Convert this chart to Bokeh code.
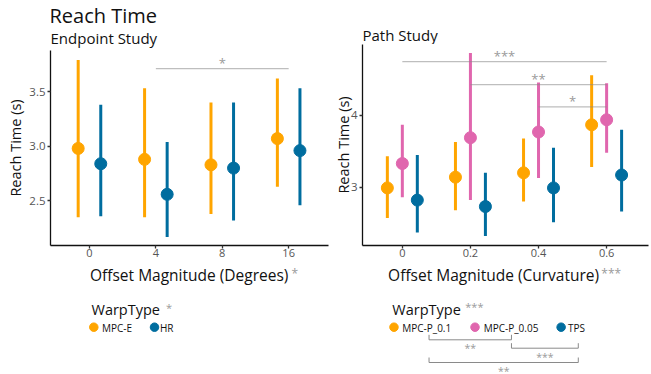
import numpy as np
from bokeh.plotting import figure
from bokeh.layouts import row, column
from bokeh.models import Range1d, FixedTicker, ColumnDataSource
from bokeh.core.properties import value
from bokeh.embed import file_html
from bokeh.resources import INLINE

FONT = "Open Sans"
ORANGE = "#FFA500"
PINK = "#E066AE"
BLUE = "#006D9F"
SIG_GRAY = "#9A9A9A"
INK = "#111111"
K = 0.33  # observed drop of the alphabetic baseline, in em

# ---------------- Endpoint study ----------------
ep_offsets = ["0", "4", "8", "16"]
ep_groups = ["MPC-E", "HR"]
ep_mpce_mean = [2.98, 2.88, 2.83, 3.07]
ep_mpce_low = [2.35, 2.35, 2.38, 2.63]
ep_mpce_high = [3.79, 3.53, 3.40, 3.62]
ep_hr_mean = [2.84, 2.56, 2.80, 2.96]
ep_hr_low = [2.36, 2.17, 2.32, 2.46]
ep_hr_high = [3.38, 3.04, 3.40, 3.53]
ep_yticks = [2.5, 3.0, 3.5]
ep_ytick_labels = ["2.5", "3.0", "3.5"]
ep_sig_from = ["4"]
ep_sig_to = ["16"]
ep_sig_y = [3.71]
ep_sig_label = ["*"]
ep_offset_sig = "*"
ep_warp_sig = "*"

# ---------------- Path study ----------------
path_offsets = [0.0, 0.2, 0.4, 0.6]
path_tick_labels = ["0", "0.2", "0.4", "0.6"]
path_groups = ["MPC-P_0.1", "MPC-P_0.05", "TPS"]
p01_mean = [2.99, 3.14, 3.20, 3.87]
p01_low = [2.57, 2.68, 2.80, 3.28]
p01_high = [3.43, 3.63, 3.68, 4.56]
p005_mean = [3.33, 3.69, 3.77, 3.94]
p005_low = [2.86, 2.82, 3.13, 3.48]
p005_high = [3.87, 4.87, 4.46, 4.45]
tps_mean = [2.82, 2.73, 2.99, 3.17]
tps_low = [2.37, 2.32, 2.51, 2.66]
tps_high = [3.45, 3.20, 3.55, 3.80]
path_yticks = [3, 4]
path_sig_from = [0.0, 0.2, 0.4]
path_sig_to = [0.6, 0.6, 0.6]
path_sig_y = [4.75, 4.43, 4.12]
path_sig_label = ["***", "**", "*"]
path_offset_sig = "***"
path_warp_sig = "***"
# WarpType pairwise significance shown under the legend
wt_sig_pairs = [("MPC-P_0.1", "MPC-P_0.05", "**"), ("MPC-P_0.05", "TPS", "***"), ("MPC-P_0.1", "TPS", "**")]


def style(p):
    p.xgrid.visible = False
    p.ygrid.visible = False
    p.outline_line_color = None
    for ax in (p.xaxis[0], p.yaxis[0]):
        ax.axis_line_color = INK
        ax.axis_line_width = 1.3
        ax.major_tick_line_color = "#333333"
        ax.major_tick_line_width = 1.3
        ax.major_tick_out = 3
        ax.major_tick_in = 0
        ax.minor_tick_line_color = None
        ax.major_label_text_font = FONT
        ax.major_label_text_font_size = "11.5px"
        ax.major_label_text_color = "#555555"
        ax.axis_label_text_font = FONT
        ax.axis_label_text_font_size = "14.5px"
        ax.axis_label_text_font_style = "normal"
        ax.axis_label_text_color = INK
    p.xaxis.major_label_text_font_size = "11px"
    p.xaxis.major_label_standoff = 0
    p.yaxis.major_label_standoff = 2
    p.yaxis.axis_label_standoff = 1


def pointranges(p, xs, means, lows, highs, color):
    src = ColumnDataSource(dict(x=xs, m=means, lo=lows, hi=highs))
    p.segment(x0="x", y0="lo", x1="x", y1="hi", source=src, line_color=color, line_width=3)
    p.scatter(x="x", y="m", source=src, size=12, fill_color=color, line_color=color)


def pixel_fig(x0, x1, y0, y1, bl, br):
    """A bare figure whose frame maps image pixels (x0..x1, y0..y1, y downwards)."""
    f = figure(width=(x1 - x0) + bl + br, height=y1 - y0,
               x_range=Range1d(x0, x1), y_range=Range1d(y1, y0),
               output_backend="svg", toolbar_location=None,
               min_border_left=bl, min_border_right=br, min_border_top=0, min_border_bottom=0,
               x_axis_type=None, y_axis_type=None)
    f.outline_line_color = None
    f.grid.visible = False
    return f


def txt(f, x, y, s, size, color=INK, align="left"):
    f.text(x=[x], y=[y - K * size], text=[s], text_font=value(FONT), text_font_size=f"{size}px",
           text_color=color, text_baseline="alphabetic", text_align=align)


TOP_L, TOP_R, FRAME_BOTTOM, FOOT = 50, 44, 245, 263

# ================= Left column =================
L_BL, L_BR = 50, 2
h1 = pixel_fig(50, 328, 0, TOP_L, L_BL, L_BR)
txt(h1, 49, 21.5, "Reach Time", 20)
txt(h1, 50, 42.3, "Endpoint Study", 15)

ep_idx = np.arange(len(ep_offsets))
p1 = figure(width=330, height=FOOT - TOP_L, x_range=Range1d(-0.587, 3.60), y_range=Range1d(2.092, 3.876),
            output_backend="svg", toolbar_location=None,
            min_border_left=L_BL, min_border_right=L_BR, min_border_top=0,
            min_border_bottom=FOOT - FRAME_BOTTOM)
style(p1)
p1.xaxis.ticker = FixedTicker(ticks=list(ep_idx))
p1.xaxis.major_label_overrides = {int(i): lab for i, lab in zip(ep_idx, ep_offsets)}
p1.yaxis.ticker = FixedTicker(ticks=ep_yticks)
p1.yaxis.major_label_overrides = {v: lab for v, lab in zip(ep_yticks, ep_ytick_labels)}
p1.yaxis.axis_label = "Reach Time (s)"

dodge_ep = 0.17
pointranges(p1, list(ep_idx - dodge_ep), ep_mpce_mean, ep_mpce_low, ep_mpce_high, ORANGE)
pointranges(p1, list(ep_idx + dodge_ep), ep_hr_mean, ep_hr_low, ep_hr_high, BLUE)

SIG_FS = 13
ep_x0 = [ep_offsets.index(a) for a in ep_sig_from]
ep_x1 = [ep_offsets.index(b) for b in ep_sig_to]
ep_xm = [(a + b) / 2 for a, b in zip(ep_x0, ep_x1)]
p1.segment(x0=ep_x0, y0=ep_sig_y, x1=ep_x1, y1=ep_sig_y, line_color="#888888", line_alpha=0.55, line_width=1.2)
p1.text(x=ep_xm, y=ep_sig_y, text=ep_sig_label, text_align="center", text_baseline="alphabetic",
        y_offset=-1.5 - K * SIG_FS, text_color=SIG_GRAY, text_font=value(FONT), text_font_size=f"{SIG_FS}px")

f1 = pixel_fig(50, 328, FOOT, 374, L_BL, L_BR)
txt(f1, 188.7, 279.6, "Offset Magnitude (Degrees)", 15.5, align="center")
txt(f1, 291, 277.0, ep_offset_sig, 12, SIG_GRAY)
txt(f1, 91, 313.3, "WarpType", 14.5)
txt(f1, 165.5, 310.5, ep_warp_sig, 11, SIG_GRAY)
l1_dot_x = [93.3, 154.0]
l1_text_x = [101.5, 159.5]
f1.scatter(x=l1_dot_x, y=[326.7] * 2, size=8.5, fill_color=[ORANGE, BLUE], line_color=[ORANGE, BLUE])
f1.text(x=l1_text_x, y=[330.3 - K * 10] * 2, text=ep_groups, text_font=value(FONT), text_font_size="10px",
        text_color=INK, text_baseline="alphabetic")

# ================= Right column =================
R_BL, R_BR = 30, 3
h2 = pixel_fig(360, 648, 0, TOP_R, R_BL, R_BR)
txt(h2, 360, 39, "Path Study", 15)

p2 = figure(width=321, height=FOOT - TOP_R, x_range=Range1d(-0.117, 0.723), y_range=Range1d(2.187, 4.99),
            output_backend="svg", toolbar_location=None,
            min_border_left=R_BL, min_border_right=R_BR, min_border_top=0,
            min_border_bottom=FOOT - FRAME_BOTTOM)
style(p2)
p2.xaxis.ticker = FixedTicker(ticks=path_offsets)
p2.xaxis.major_label_overrides = {v: lab for v, lab in zip(path_offsets, path_tick_labels)}
p2.yaxis.ticker = FixedTicker(ticks=path_yticks)
p2.yaxis.major_label_standoff = 2
p2.yaxis.axis_label_standoff = -5
p2.yaxis.axis_label = "Reach Time (s)"

po = np.array(path_offsets)
dodge_p = 0.044
pointranges(p2, list(po - dodge_p), p01_mean, p01_low, p01_high, ORANGE)
pointranges(p2, list(po), p005_mean, p005_low, p005_high, PINK)
pointranges(p2, list(po + dodge_p), tps_mean, tps_low, tps_high, BLUE)

path_xm = [(a + b) / 2 for a, b in zip(path_sig_from, path_sig_to)]
p2.segment(x0=path_sig_from, y0=path_sig_y, x1=path_sig_to, y1=path_sig_y, line_color="#888888",
           line_alpha=0.55, line_width=1.2)
p2.text(x=path_xm, y=path_sig_y, text=path_sig_label, text_align="center", text_baseline="alphabetic",
        y_offset=-1.5 - K * SIG_FS, text_color=SIG_GRAY, text_font=value(FONT), text_font_size=f"{SIG_FS}px")

f2 = pixel_fig(360, 648, FOOT, 374, R_BL, R_BR)
txt(f2, 492, 279.8, "Offset Magnitude (Curvature)", 15.5, align="center")
txt(f2, 600.5, 277.4, path_offset_sig, 12, SIG_GRAY)
txt(f2, 390, 313.3, "WarpType", 14.5)
txt(f2, 463.5, 309.5, path_warp_sig, 11, SIG_GRAY)
l2_dot_x = [391.7, 473.3, 560.0]
l2_text_x = [400.0, 482.0, 567.0]
l2_center_x = [427.0, 510.0, 577.3]
f2.scatter(x=l2_dot_x, y=[326.7] * 3, size=8.5, fill_color=[ORANGE, PINK, BLUE], line_color=[ORANGE, PINK, BLUE])
f2.text(x=l2_text_x, y=[330.3 - K * 10] * 3, text=path_groups, text_font=value(FONT), text_font_size="10px",
        text_color=INK, text_baseline="alphabetic")

BR_FS = 10.5
bracket_y = [339.3, 347.7, 362.0]
xs, ys, btx, bty, btl = [], [], [], [], []
for (a, b, lab), by in zip(wt_sig_pairs, bracket_y):
    xa = l2_center_x[path_groups.index(a)]
    xb = l2_center_x[path_groups.index(b)]
    xs.append([xa, xa, xb, xb])
    ys.append([by - 5, by, by, by - 5])
    btx.append((xa + xb) / 2)
    bty.append(by + 12 - K * BR_FS)
    btl.append(lab)
f2.multi_line(xs=xs, ys=ys, line_color="#8A8A8A", line_width=1)
f2.text(x=btx, y=bty, text=btl, text_align="center", text_font=value(FONT), text_font_size=f"{BR_FS}px",
        text_color=SIG_GRAY, text_baseline="alphabetic")

layout = row(column(h1, p1, f1), column(h2, p2, f2))
open("out.html", "w").write(file_html(layout, INLINE))
